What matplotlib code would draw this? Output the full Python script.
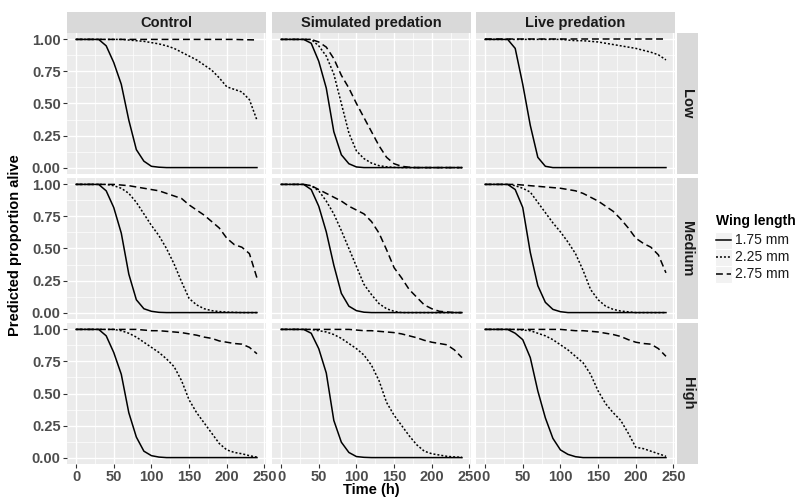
"""
Predicted survival curves by wing length, facetted by treatment (columns)
and density (rows), drawn ggplot-style with plain matplotlib.
"""

import matplotlib.pyplot as plt
from matplotlib.patches import Rectangle

plt.rcParams["font.family"] = ["Liberation Sans", "DejaVu Sans"]

# ═══════════════════════════════════════════════════════════════════════
#  Data (one value every 10 h)
# ═══════════════════════════════════════════════════════════════════════
time_h = [0, 10, 20, 30, 40, 50, 60, 70, 80, 90, 100, 110, 120,
          130, 140, 150, 160, 170, 180, 190, 200, 210, 220, 230, 240]

treatments = ["Control", "Simulated predation", "Live predation"]
densities = ["Low", "Medium", "High"]
wing_labels = ["1.75 mm", "2.25 mm", "2.75 mm"]

# --- Control ---
control_low_175 = [1, 1, 1, 1, 0.95, 0.82, 0.65, 0.37, 0.14, 0.05, 0.01, 0.003,
                   0, 0, 0, 0, 0, 0, 0, 0, 0, 0, 0, 0, 0]
control_low_225 = [1, 1, 1, 1, 1, 1, 1, 0.995, 0.99, 0.985, 0.975, 0.965, 0.95,
                   0.93, 0.9, 0.87, 0.84, 0.8, 0.76, 0.7, 0.63, 0.61, 0.59, 0.53, 0.37]
control_low_275 = [1, 1, 1, 1, 1, 1, 1, 1, 1, 1, 1, 1, 1,
                   1, 1, 1, 1, 1, 1, 1, 1, 1, 0.998, 0.997, 0.996]

control_med_175 = [1, 1, 1, 1, 0.95, 0.82, 0.62, 0.3, 0.1, 0.03, 0.01, 0.002,
                   0, 0, 0, 0, 0, 0, 0, 0, 0, 0, 0, 0, 0]
control_med_225 = [1, 1, 1, 1, 1, 0.99, 0.97, 0.93, 0.86, 0.77, 0.68, 0.6, 0.5,
                   0.38, 0.24, 0.11, 0.06, 0.03, 0.015, 0.008, 0.004, 0.002, 0, 0, 0]
control_med_275 = [1, 1, 1, 1, 1, 1, 0.995, 0.99, 0.98, 0.97, 0.96, 0.95, 0.93,
                   0.91, 0.89, 0.84, 0.8, 0.76, 0.71, 0.66, 0.58, 0.53, 0.51, 0.46, 0.27]

control_high_175 = [1, 1, 1, 1, 0.95, 0.82, 0.65, 0.35, 0.16, 0.05, 0.015, 0.004,
                    0, 0, 0, 0, 0, 0, 0, 0, 0, 0, 0, 0, 0]
control_high_225 = [1, 1, 1, 1, 1, 1, 0.99, 0.97, 0.94, 0.9, 0.86, 0.82, 0.77,
                    0.71, 0.6, 0.45, 0.35, 0.27, 0.19, 0.11, 0.06, 0.04, 0.03, 0.015, 0.003]
control_high_275 = [1, 1, 1, 1, 1, 1, 1, 1, 1, 0.995, 0.99, 0.99, 0.985,
                    0.98, 0.975, 0.965, 0.955, 0.94, 0.93, 0.91, 0.9, 0.89, 0.885, 0.86, 0.81]

# --- Simulated predation ---
sim_low_175 = [1, 1, 1, 1, 0.97, 0.83, 0.62, 0.28, 0.1, 0.03, 0.005, 0,
               0, 0, 0, 0, 0, 0, 0, 0, 0, 0, 0, 0, 0]
sim_low_225 = [1, 1, 1, 1, 1, 0.95, 0.87, 0.73, 0.5, 0.27, 0.13, 0.07, 0.035,
               0.015, 0.006, 0.002, 0, 0, 0, 0, 0, 0, 0, 0, 0]
sim_low_275 = [1, 1, 1, 1, 1, 0.98, 0.94, 0.85, 0.72, 0.62, 0.5, 0.39, 0.28,
               0.17, 0.08, 0.03, 0.01, 0.003, 0, 0, 0, 0, 0, 0, 0]

sim_med_175 = [1, 1, 1, 1, 0.96, 0.83, 0.63, 0.37, 0.15, 0.05, 0.015, 0.003,
               0, 0, 0, 0, 0, 0, 0, 0, 0, 0, 0, 0, 0]
sim_med_225 = [1, 1, 1, 1, 0.99, 0.95, 0.87, 0.77, 0.64, 0.5, 0.36, 0.22, 0.14,
               0.07, 0.03, 0.01, 0, 0, 0, 0, 0, 0, 0, 0, 0]
sim_med_275 = [1, 1, 1, 1, 0.99, 0.96, 0.93, 0.9, 0.87, 0.83, 0.8, 0.77, 0.71,
               0.62, 0.49, 0.35, 0.27, 0.18, 0.12, 0.06, 0.03, 0.01, 0.005, 0, 0]

sim_high_175 = [1, 1, 1, 1, 0.97, 0.85, 0.66, 0.29, 0.12, 0.04, 0.008, 0.002,
                0, 0, 0, 0, 0, 0, 0, 0, 0, 0, 0, 0, 0]
sim_high_225 = [1, 1, 1, 1, 1, 0.99, 0.98, 0.96, 0.93, 0.89, 0.85, 0.8, 0.72,
                0.6, 0.43, 0.33, 0.25, 0.17, 0.1, 0.05, 0.03, 0.02, 0.01, 0.005, 0.002]
sim_high_275 = [1, 1, 1, 1, 1, 1, 1, 1, 1, 1, 0.995, 0.99, 0.99,
                0.985, 0.98, 0.975, 0.965, 0.95, 0.935, 0.915, 0.9, 0.89, 0.88, 0.84, 0.78]

# --- Live predation ---
live_low_175 = [1, 1, 1, 1, 0.93, 0.65, 0.33, 0.08, 0.01, 0, 0, 0,
                0, 0, 0, 0, 0, 0, 0, 0, 0, 0, 0, 0, 0]
live_low_225 = [1, 1, 1, 1, 1, 1, 1, 1, 1, 1, 1, 0.995, 0.99,
                0.99, 0.985, 0.98, 0.97, 0.96, 0.95, 0.94, 0.93, 0.915, 0.9, 0.88, 0.84]
live_low_275 = [1, 1, 1, 1, 1, 1, 1, 1, 1, 1, 1, 1, 1,
                1, 1, 1, 1, 1, 1, 1, 1, 1, 1, 1, 1]

live_med_175 = [1, 1, 1, 1, 0.96, 0.82, 0.47, 0.21, 0.08, 0.025, 0.007, 0,
                0, 0, 0, 0, 0, 0, 0, 0, 0, 0, 0, 0, 0]
live_med_225 = [1, 1, 1, 1, 0.99, 0.97, 0.94, 0.86, 0.78, 0.7, 0.63, 0.55, 0.46,
                0.33, 0.18, 0.1, 0.05, 0.025, 0.012, 0.006, 0, 0, 0, 0, 0]
live_med_275 = [1, 1, 1, 1, 1, 0.995, 0.99, 0.985, 0.98, 0.975, 0.97, 0.96, 0.95,
                0.93, 0.9, 0.87, 0.83, 0.79, 0.73, 0.66, 0.58, 0.54, 0.51, 0.45, 0.31]

live_high_175 = [1, 1, 1, 1, 0.97, 0.92, 0.78, 0.52, 0.31, 0.15, 0.06, 0.025,
                 0.007, 0, 0, 0, 0, 0, 0, 0, 0, 0, 0, 0, 0]
live_high_225 = [1, 1, 1, 1, 1, 0.995, 0.99, 0.97, 0.95, 0.92, 0.88, 0.84, 0.79,
                 0.74, 0.65, 0.52, 0.42, 0.35, 0.29, 0.19, 0.08, 0.07, 0.05, 0.03, 0.01]
live_high_275 = [1, 1, 1, 1, 1, 1, 1, 1, 1, 1, 1, 0.995, 0.99,
                 0.99, 0.985, 0.98, 0.97, 0.96, 0.945, 0.92, 0.9, 0.89, 0.885, 0.85, 0.79]

# rows = density, cols = treatment, inner = wing length
curves = [
    [[control_low_175, control_low_225, control_low_275],
     [sim_low_175, sim_low_225, sim_low_275],
     [live_low_175, live_low_225, live_low_275]],
    [[control_med_175, control_med_225, control_med_275],
     [sim_med_175, sim_med_225, sim_med_275],
     [live_med_175, live_med_225, live_med_275]],
    [[control_high_175, control_high_225, control_high_275],
     [sim_high_175, sim_high_225, sim_high_275],
     [live_high_175, live_high_225, live_high_275]],
]

# ═══════════════════════════════════════════════════════════════════════
#  Style
# ═══════════════════════════════════════════════════════════════════════
line_styles = ["-", (0, (1.3, 1.3)), (0, (4.5, 2.5))]
line_w = 1.1
panel_bg = "#EBEBEB"
strip_bg = "#D9D9D9"
tick_col = "#4D4D4D"
fs_tick = 10.5
fs_strip = 10.5
fs_title = 10.5
fs_legend = 10

W, H = 798, 498
fig = plt.figure(figsize=(W / 100, H / 100), dpi=100)


def px_axes(left, top, w, h):
    """Axes placed in pixel coordinates (origin at top-left)."""
    return fig.add_axes([left / W, 1 - (top + h) / H, w / W, h / H])


col_left = [67, 272, 476]
row_top = [33, 178, 323]
pw, ph = 199, 141

# ═══════════════════════════════════════════════════════════════════════
#  Panels
# ═══════════════════════════════════════════════════════════════════════
for r in range(3):
    for c in range(3):
        ax = px_axes(col_left[c], row_top[r], pw, ph)
        ax.set_facecolor(panel_bg)
        for s in ax.spines.values():
            s.set_visible(False)
        ax.set_xlim(-12, 252)
        ax.set_ylim(-0.05, 1.05)
        ax.set_xticks([0, 50, 100, 150, 200, 250])
        ax.set_xticks([25, 75, 125, 175, 225], minor=True)
        ax.set_yticks([0, 0.25, 0.5, 0.75, 1.0])
        ax.set_yticks([0.125, 0.375, 0.625, 0.875], minor=True)
        ax.set_yticklabels(["0.00", "0.25", "0.50", "0.75", "1.00"])
        ax.grid(True, which="major", color="white", linewidth=1.0)
        ax.grid(True, which="minor", color="white", linewidth=0.5)
        ax.set_axisbelow(True)
        ax.tick_params(which="major", length=3, color="#333333", width=0.8,
                       labelcolor=tick_col, labelsize=fs_tick, pad=1.5)
        ax.tick_params(which="minor", length=0)
        for lab in ax.get_xticklabels() + ax.get_yticklabels():
            lab.set_fontweight("bold")
        if c > 0:
            ax.tick_params(axis="y", which="major", length=0, labelleft=False)
        if r < 2:
            ax.tick_params(axis="x", which="major", length=0, labelbottom=False)

        for k in range(3):
            ax.plot(time_h, curves[r][c][k], color="black",
                    linestyle=line_styles[k], linewidth=line_w)

# strips on top (treatment) and right (density)
for c in range(3):
    sax = px_axes(col_left[c], 12, pw, 21)
    sax.set_facecolor(strip_bg)
    sax.set_xticks([])
    sax.set_yticks([])
    for s in sax.spines.values():
        s.set_visible(False)
    sax.text(0.5, 0.5, treatments[c], ha="center", va="center",
             fontsize=fs_strip, fontweight="bold", color="#1A1A1A",
             transform=sax.transAxes)

for r in range(3):
    sax = px_axes(677, row_top[r], 21, ph)
    sax.set_facecolor(strip_bg)
    sax.set_xticks([])
    sax.set_yticks([])
    for s in sax.spines.values():
        s.set_visible(False)
    sax.text(0.5, 0.5, densities[r], ha="center", va="center", rotation=-90,
             fontsize=fs_strip, fontweight="bold", color="#1A1A1A",
             transform=sax.transAxes)

# ═══════════════════════════════════════════════════════════════════════
#  Axis titles and legend
# ═══════════════════════════════════════════════════════════════════════
fig.text(15 / W, 1 - 245 / H, "Predicted proportion alive", rotation=90,
         ha="center", va="center", fontsize=fs_title, fontweight="bold")
fig.text(371 / W, 1 - 490 / H, "Time (h)", ha="center", va="center",
         fontsize=fs_title, fontweight="bold")

lax = fig.add_axes([0, 0, 1, 1], facecolor="none")
lax.set_xlim(0, W)
lax.set_ylim(H, 0)
lax.axis("off")
lax.text(716, 221, "Wing length", ha="left", va="center",
         fontsize=fs_legend, fontweight="bold")
key_y = [240, 257, 274]
for k in range(3):
    lax.add_patch(Rectangle((715, key_y[k] - 8.5), 17, 17,
                            facecolor="#F2F2F2", edgecolor="white", linewidth=0.8))
    lax.plot([716, 731], [key_y[k], key_y[k]], color="black",
             linestyle=line_styles[k], linewidth=line_w)
    lax.text(735, key_y[k], wing_labels[k], ha="left", va="center",
             fontsize=fs_legend, color="#1A1A1A")

plt.savefig("out.png", dpi=100)
